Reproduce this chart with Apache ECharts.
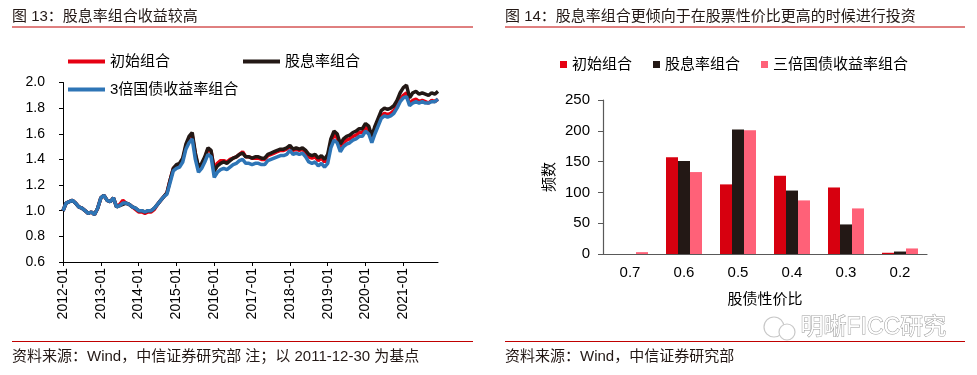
<!DOCTYPE html>
<html><head><meta charset="utf-8">
<script src="https://cdn.jsdelivr.net/npm/echarts@6/dist/echarts.min.js"></script>
<style>html,body{margin:0;padding:0;background:#fff}#c{width:977px;height:375px}</style>
</head><body><div id="c"></div>
<script>
// ---- Left chart data (monthly, 2012-01 .. 2021-12) ----
var startYear = 2012, monthCount = 120;
var lineNames = ['初始组合', '股息率组合', '3倍国债收益率组合'];
var initialPortfolio = [
 1.00,1.06,1.07,1.08,1.06,1.03,1.02,1.00,0.98,0.99,0.97,1.02,
 1.10,1.12,1.08,1.07,1.10,1.03,1.05,1.08,1.06,1.05,1.03,1.01,
 0.99,0.99,0.98,0.99,0.99,1.01,1.05,1.08,1.11,1.14,1.24,1.33,
 1.35,1.36,1.40,1.50,1.56,1.59,1.44,1.33,1.36,1.41,1.48,1.46,
 1.33,1.37,1.39,1.39,1.38,1.40,1.41,1.42,1.44,1.46,1.42,1.42,
 1.41,1.41,1.41,1.40,1.40,1.43,1.44,1.45,1.46,1.47,1.47,1.48,
 1.50,1.47,1.48,1.47,1.48,1.45,1.42,1.41,1.42,1.39,1.41,1.38,
 1.42,1.53,1.59,1.57,1.49,1.53,1.55,1.56,1.58,1.59,1.61,1.61,
 1.65,1.63,1.55,1.62,1.68,1.74,1.76,1.75,1.76,1.78,1.82,1.87,
 1.90,1.92,1.83,1.86,1.87,1.85,1.86,1.85,1.84,1.86,1.85,1.87];
var dividendPortfolio = [
 1.00,1.06,1.07,1.08,1.06,1.03,1.02,1.00,0.98,0.99,0.97,1.02,
 1.10,1.12,1.08,1.07,1.10,1.03,1.04,1.05,1.06,1.05,1.03,1.02,
 1.00,1.00,0.99,1.00,1.00,1.02,1.05,1.08,1.11,1.14,1.24,1.33,
 1.36,1.37,1.41,1.52,1.58,1.61,1.45,1.34,1.37,1.42,1.49,1.47,
 1.31,1.35,1.37,1.38,1.37,1.39,1.41,1.42,1.44,1.45,1.42,1.42,
 1.41,1.42,1.42,1.41,1.41,1.44,1.45,1.46,1.47,1.48,1.48,1.49,
 1.51,1.48,1.49,1.48,1.49,1.47,1.44,1.43,1.44,1.41,1.43,1.40,
 1.44,1.56,1.62,1.60,1.52,1.56,1.58,1.59,1.61,1.62,1.64,1.64,
 1.68,1.66,1.58,1.66,1.72,1.78,1.80,1.79,1.80,1.82,1.86,1.92,
 1.96,1.98,1.88,1.92,1.93,1.91,1.92,1.91,1.90,1.92,1.91,1.93];
var treasuryPortfolio = [
 1.00,1.06,1.07,1.08,1.06,1.03,1.02,1.00,0.98,0.99,0.97,1.02,
 1.10,1.12,1.08,1.07,1.10,1.03,1.04,1.06,1.06,1.05,1.03,1.02,
 1.00,1.00,0.99,1.00,1.00,1.02,1.05,1.08,1.11,1.13,1.22,1.31,
 1.33,1.34,1.38,1.48,1.53,1.56,1.40,1.30,1.33,1.38,1.44,1.42,
 1.26,1.30,1.32,1.33,1.32,1.34,1.36,1.37,1.39,1.40,1.37,1.37,
 1.36,1.37,1.37,1.36,1.36,1.39,1.40,1.41,1.42,1.43,1.43,1.44,
 1.47,1.44,1.45,1.44,1.45,1.42,1.38,1.37,1.38,1.35,1.37,1.34,
 1.37,1.49,1.55,1.53,1.46,1.50,1.52,1.53,1.55,1.56,1.58,1.58,
 1.62,1.60,1.53,1.60,1.66,1.72,1.74,1.73,1.74,1.76,1.80,1.85,
 1.88,1.89,1.82,1.84,1.85,1.84,1.85,1.84,1.84,1.85,1.85,1.87];
var months = [];
for (var i = 0; i < monthCount; i++) {
  var y = startYear + Math.floor(i / 12), m = i % 12 + 1;
  months.push(y + '-' + (m < 10 ? '0' + m : m));
}

// ---- Right chart data ----
var ratioCategories = ['0.7', '0.6', '0.5', '0.4', '0.3', '0.2'];
var barNames = ['初始组合', '股息率组合', '三倍国债收益率组合'];
var barInitial  = [0, 157, 113, 127, 108, 2];
var barDividend = [0, 151, 202, 103, 48, 4];
var barTreasury = [3, 133, 201, 87, 74, 9];

var FONT = "'Liberation Sans', Arial, 'Noto Sans CJK SC', sans-serif";
var TXT = '#231815', RED_LINE = '#c00000';

var chart = echarts.init(document.getElementById('c'));
chart.setOption({
  animation: false,
  textStyle: { fontFamily: FONT },
  grid: [
    { left: 63, right: 977 - 438, top: 82.5, bottom: 375 - 262, containLabel: false },
    { left: 603, right: 977 - 927, top: 100, bottom: 375 - 254, containLabel: false }
  ],
  legend: [
    { data: [lineNames[0]], left: 68, top: 54, padding: 0, icon: 'rect', itemWidth: 37, itemHeight: 4,
      textStyle: { fontSize: 15, color: '#000', fontFamily: FONT } },
    { data: [lineNames[1]], left: 243, top: 54, padding: 0, icon: 'rect', itemWidth: 37, itemHeight: 4,
      textStyle: { fontSize: 15, color: '#000', fontFamily: FONT } },
    { data: [lineNames[2]], left: 68, top: 82, padding: 0, icon: 'rect', itemWidth: 37, itemHeight: 4,
      textStyle: { fontSize: 15, color: '#000', fontFamily: FONT } },
    { data: barNames, left: 560, top: 57, padding: 0, icon: 'rect', itemWidth: 7, itemHeight: 7, itemGap: 21,
      textStyle: { fontSize: 15, color: '#000', fontFamily: FONT } }
  ],
  xAxis: [
    { type: 'category', gridIndex: 0, data: months, boundaryGap: false,
      axisLine: { lineStyle: { color: '#000', width: 1 } },
      axisTick: { interval: 11, length: 4, lineStyle: { color: '#000' } },
      axisLabel: { interval: 11, rotate: 90, margin: 6, fontSize: 14, color: '#000', fontFamily: FONT },
      splitLine: { show: false } },
    { type: 'category', gridIndex: 1, data: ratioCategories,
      name: '股债性价比', nameLocation: 'middle', nameGap: 38,
      nameTextStyle: { fontSize: 15, color: '#000', fontFamily: FONT },
      axisLine: { lineStyle: { color: '#595959', width: 1.2 } },
      axisTick: { length: 5, lineStyle: { color: '#595959' } },
      axisLabel: { margin: 11, fontSize: 15, color: '#000', fontFamily: FONT } }
  ],
  yAxis: [
    { type: 'value', gridIndex: 0, min: 0.6, max: 2.0, interval: 0.2,
      axisLine: { show: true, lineStyle: { color: '#000', width: 1 } },
      axisTick: { show: true, length: 4, lineStyle: { color: '#000' } },
      axisLabel: { margin: 18, fontSize: 14, color: '#000', fontFamily: FONT,
        formatter: function (v) { return v.toFixed(1); } },
      splitLine: { show: false } },
    { type: 'value', gridIndex: 1, min: 0, max: 250, interval: 50,
      name: '频数', nameLocation: 'middle', nameGap: 46, nameRotate: 90,
      nameTextStyle: { fontSize: 15, color: '#000', fontFamily: FONT },
      axisLine: { show: true, lineStyle: { color: '#595959', width: 1.2 } },
      axisTick: { show: true, length: 5, lineStyle: { color: '#595959' } },
      axisLabel: { margin: 13, fontSize: 15, color: '#000', fontFamily: FONT },
      splitLine: { show: false } }
  ],
  series: [
    { name: lineNames[0], type: 'line', xAxisIndex: 0, yAxisIndex: 0, data: initialPortfolio,
      symbol: 'none', color: '#e60012', lineStyle: { width: 3.5 } },
    { name: lineNames[1], type: 'line', xAxisIndex: 0, yAxisIndex: 0, data: dividendPortfolio,
      symbol: 'none', color: '#231815', lineStyle: { width: 3.5 } },
    { name: lineNames[2], type: 'line', xAxisIndex: 0, yAxisIndex: 0, data: treasuryPortfolio,
      symbol: 'none', color: '#2e75b6', lineStyle: { width: 3.5 } },
    { name: barNames[0], type: 'bar', xAxisIndex: 1, yAxisIndex: 1, data: barInitial,
      barWidth: 12, barGap: '0%', color: '#d7000f' },
    { name: barNames[1], type: 'bar', xAxisIndex: 1, yAxisIndex: 1, data: barDividend,
      barWidth: 12, barGap: '0%', color: '#231815' },
    { name: barNames[2], type: 'bar', xAxisIndex: 1, yAxisIndex: 1, data: barTreasury,
      barWidth: 12, barGap: '0%', color: '#ff6178' }
  ],
  graphic: [
    { type: 'text', left: 12, top: 9, style: { text: '图 13：股息率组合收益较高', fontSize: 15, fill: TXT, fontFamily: FONT } },
    { type: 'line', shape: { x1: 12, y1: 27, x2: 473, y2: 27 }, style: { stroke: RED_LINE, lineWidth: 1 } },
    { type: 'text', left: 505, top: 9, style: { text: '图 14：股息率组合更倾向于在股票性价比更高的时候进行投资', fontSize: 15, fill: TXT, fontFamily: FONT } },
    { type: 'line', shape: { x1: 505, y1: 27, x2: 965, y2: 27 }, style: { stroke: RED_LINE, lineWidth: 1 } },
    { type: 'line', shape: { x1: 12, y1: 341.5, x2: 473, y2: 341.5 }, style: { stroke: RED_LINE, lineWidth: 1 } },
    { type: 'line', shape: { x1: 505, y1: 341.5, x2: 965, y2: 341.5 }, style: { stroke: RED_LINE, lineWidth: 1 } },
    { type: 'text', left: 12, top: 349, style: { text: '资料来源：Wind，中信证券研究部 注；以 2011-12-30 为基点', fontSize: 15, fill: TXT, fontFamily: FONT } },
    { type: 'text', left: 505, top: 349, style: { text: '资料来源：Wind，中信证券研究部', fontSize: 15, fill: TXT, fontFamily: FONT } },
    { type: 'circle', shape: { cx: 774, cy: 327, r: 10 }, style: { fill: 'none', stroke: '#c8c8c8', lineWidth: 1.2 } },
    { type: 'circle', shape: { cx: 787, cy: 332, r: 8 }, style: { fill: '#fff', stroke: '#c8c8c8', lineWidth: 1.2 } },
    { type: 'text', left: 800, top: 316, style: { text: '明晰FICC研究', fontSize: 23, fill: '#ffffff', stroke: '#9a9a9a', lineWidth: 1, fontFamily: FONT } }
  ]
});
</script>
</body></html>
